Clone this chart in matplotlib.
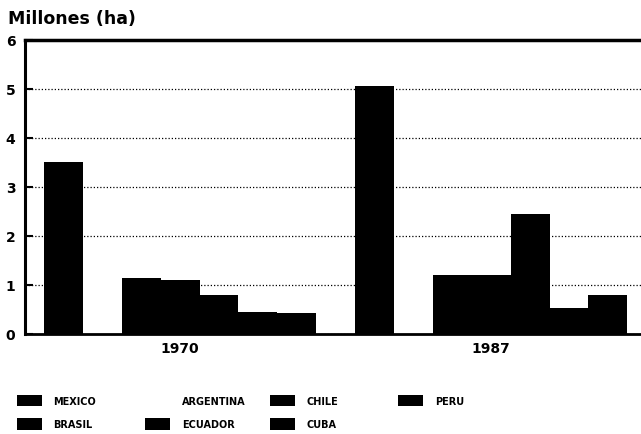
import matplotlib
matplotlib.use('Agg')
import numpy as np
import matplotlib.pyplot as plt
from matplotlib.patches import Patch

# order of the bars inside each year group
countries = ['MEXICO', 'ARGENTINA', 'CHILE', 'PERU', 'BRASIL', 'ECUADOR', 'CUBA']
years = ['1970', '1987']
colors = ['black', 'white', 'black', 'black', 'black', 'black', 'black']

# millones de hectareas (ARGENTINA is drawn in white)
val_1970 = [3.5, 1.3, 1.15, 1.1, 0.8, 0.45, 0.42]
val_1987 = [5.05, 1.7, 1.2, 1.2, 2.45, 0.52, 0.8]

plt.rcParams['font.family'] = 'DejaVu Sans'
plt.rcParams['font.weight'] = 'bold'

fig = plt.figure(figsize=(6.41, 4.35), dpi=100)
ax = fig.add_axes([0.039, 0.23, 0.961, 0.676])

n = len(countries)
group_pos = np.array([0, n + 1])
for i in range(n):
    vals = [val_1970[i], val_1987[i]]
    ax.bar(group_pos + i, vals, width=1.0, color=colors[i],
           edgecolor='none', zorder=2)

ax.set_axisbelow(True)
ax.yaxis.grid(True, linestyle=(0, (1, 1.6)), color='black', linewidth=0.9)
ax.set_ylim(0, 6)
ax.set_xlim(-0.99, 14.85)
ax.set_yticks(range(0, 7))
ax.set_yticklabels([str(v) for v in range(0, 7)], fontsize=10, fontweight='bold')
ax.tick_params(axis='y', direction='in', length=6, width=1.5, pad=7)
ax.set_xticks(group_pos + (n - 1) / 2)
ax.set_xticklabels(years, fontsize=10, fontweight='bold')
ax.tick_params(axis='x', length=0, pad=5)

ax.spines['right'].set_visible(False)
ax.spines['left'].set_linewidth(2.2)
ax.spines['top'].set_linewidth(2.5)
ax.spines['bottom'].set_linewidth(2.0)

fig.text(0.012, 0.935, 'Millones (ha)', fontsize=12.5, fontweight='bold',
         ha='left', va='bottom')

# legend: four columns, two rows, placed by hand
legend_cols = [[0, 4], [1, 5], [2, 6], [3]]
col_x = [0.026, 0.226, 0.421, 0.621]
for cx, idx in zip(col_x, legend_cols):
    handles = [Patch(facecolor=colors[k], edgecolor='none', label=countries[k]) for k in idx]
    fig.legend(handles=handles, loc='upper left', bbox_to_anchor=(cx, 0.09),
               frameon=False, ncol=1, handlelength=2.6,
               handleheight=1.45, handletextpad=1.2, labelspacing=1.2,
               borderaxespad=0, borderpad=0, prop={'weight': 'bold', 'size': 7})

fig.savefig('out.png', dpi=100)
